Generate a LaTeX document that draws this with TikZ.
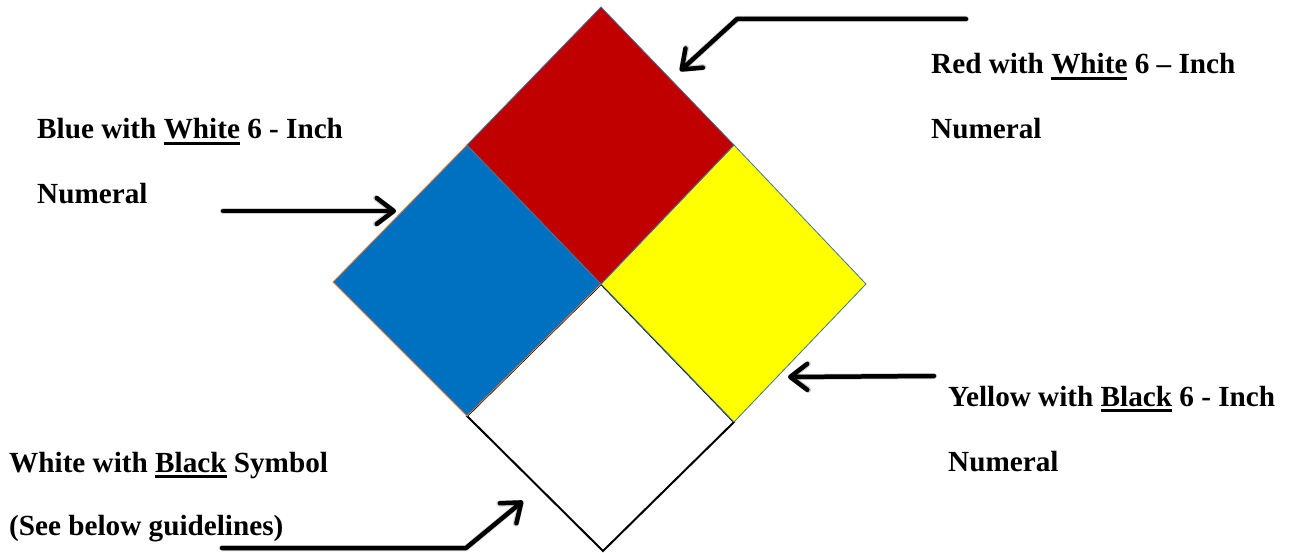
\documentclass[tikz,border=0pt]{standalone}
\usepackage{fontspec}
\setmainfont{Liberation Serif}
\usetikzlibrary{arrows.meta}
\definecolor{nfpared}{HTML}{C00000}
\definecolor{nfpablue}{HTML}{0070C0}
\definecolor{nfpayellow}{HTML}{FFFF00}
\definecolor{edgeblue}{HTML}{41719C}
\definecolor{edgeorange}{HTML}{ED7D31}
\newcommand\myul[1]{\setbox0\hbox{#1}\rlap{\rule[-6pt]{\wd0}{2.7pt}}\box0\relax}
\tikzset{
  lbl/.style={font=\fontsize{29.2}{35}\selectfont\bfseries, anchor=base west, inner sep=0pt},
  pointer/.style={line width=4.5pt, line cap=round, line join=round,
    -{Straight Barb[length=17pt,width=26pt,line width=4.5pt,round]}},
  pshadow/.style={line width=6pt, line cap=round, line join=round, black, opacity=0.18,
    -{Straight Barb[length=17pt,width=26pt,line width=6pt,round]}},
  sq/.style={line width=0.8pt}
}
\begin{document}
\begin{tikzpicture}[x=1pt,y=-1pt]
\useasboundingbox (0,0) rectangle (1298,553);
% diamond corners
\coordinate (T) at (601,7);
\coordinate (RL) at (467,145);
\coordinate (RR) at (734,145);
\coordinate (C) at (601,284);
\coordinate (L) at (333,282);
\coordinate (BB) at (467,416);
\coordinate (R) at (866,284);
\coordinate (YB) at (734,422);
\coordinate (B) at (603,551);
% squares
\draw[line width=2pt, fill=white] (C) -- (YB) -- (B) -- (BB) -- cycle;
\draw[sq, draw=edgeorange, fill=nfpablue] (RL) -- (C) -- (BB) -- (L) -- cycle;
\draw[sq, draw=edgeblue, fill=nfpayellow] (RR) -- (R) -- (YB) -- (C) -- cycle;
\draw[sq, draw=edgeblue, fill=nfpared] (T) -- (RR) -- (C) -- (RL) -- cycle;
% labels
\node[lbl] (blue1) at (37,139) {Blue with \myul{White} 6 - Inch};
\node[lbl] (blue2) at (37,204) {Numeral};
\node[lbl] (red1) at (931,74) {Red with \myul{White} 6 – Inch};
\node[lbl] (red2) at (931,139) {Numeral};
\node[lbl] (yel1) at (948,406) {Yellow with \myul{Black} 6 - Inch};
\node[lbl] (yel2) at (948,471) {Numeral};
\node[lbl] (wht1) at (9,472) {White with \myul{Black} Symbol};
\node[lbl] (wht2) at (9,535) {(See below guidelines)};
% arrow coordinates
\coordinate (ra0) at (966,19);
\coordinate (ra1) at (737,19);
\coordinate (ra2) at (680,71);
\coordinate (ba0) at (223,211);
\coordinate (ba1) at (396,211);
\coordinate (ya0) at (934,376);
\coordinate (ya1) at (788,377);
\coordinate (wa0) at (222,548);
\coordinate (wa1) at (466,548);
\coordinate (wa2) at (523,501);
% shadows
\begin{scope}[shift={(2,3)}]
\draw[pshadow] (ra0) -- (ra1) -- (ra2);
\draw[pshadow] (ba0) -- (ba1);
\draw[pshadow] (ya0) -- (ya1);
\draw[pshadow] (wa0) -- (wa1) -- (wa2);
\end{scope}
% arrows
\draw[pointer] (ra0) -- (ra1) -- (ra2);
\draw[pointer] (ba0) -- (ba1);
\draw[pointer] (ya0) -- (ya1);
\draw[pointer] (wa0) -- (wa1) -- (wa2);
\end{tikzpicture}
\end{document}
